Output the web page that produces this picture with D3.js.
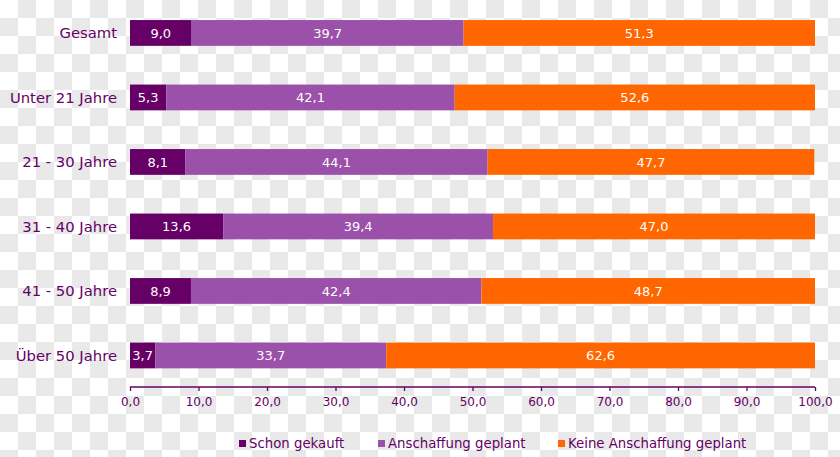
<!DOCTYPE html>
<html><head><meta charset="utf-8">
<script src="https://cdn.jsdelivr.net/npm/d3@7"></script>
<style>html,body{margin:0;padding:0;background:#fff;}svg{display:block;}</style>
</head><body>
<svg id="c" width="840" height="457"></svg>
<script>
const categories = ["Gesamt","Unter 21 Jahre","21 - 30 Jahre","31 - 40 Jahre","41 - 50 Jahre","Über 50 Jahre"];
const seriesNames = ["Schon gekauft","Anschaffung geplant","Keine Anschaffung geplant"];
const schonGekauft = [9.0,5.3,8.1,13.6,8.9,3.7];
const anschaffungGeplant = [39.7,42.1,44.1,39.4,42.4,33.7];
const keineAnschaffung = [51.3,52.6,47.7,47.0,48.7,62.6];
const tickValues = [0,10,20,30,40,50,60,70,80,90,100];
const colors = ["#660066","#9b51a9","#ff6600"];

const svg = d3.select("#c");
const W = 840, H = 457;
const textColor = "#660066";
const font = "'DejaVu Sans', Verdana, sans-serif";

// checkerboard background
const defs = svg.append("defs");
const pat = defs.append("pattern").attr("id","chk").attr("patternUnits","userSpaceOnUse")
  .attr("width",36).attr("height",36);
pat.append("rect").attr("width",36).attr("height",36).attr("fill","#ffffff");
pat.append("rect").attr("x",18).attr("y",0).attr("width",18).attr("height",18).attr("fill","#e9e9e9");
pat.append("rect").attr("x",0).attr("y",18).attr("width",18).attr("height",18).attr("fill","#e9e9e9");
svg.append("rect").attr("width",W).attr("height",H).attr("fill","url(#chk)");

const x = d3.scaleLinear().domain([0,100]).range([130,815]);
const y = d3.scaleBand().domain(categories).range([0.7,387.7]).paddingInner(0.6).paddingOuter(0.3);

const data = categories.map((c,i)=>({cat:c, vals:[schonGekauft[i],anschaffungGeplant[i],keineAnschaffung[i]]}));
const stack = d3.stack().keys([0,1,2]).value((d,k)=>d.vals[k]);
const series = stack(data);

const g = svg.append("g");
series.forEach((s,si)=>{
  const grp = g.append("g");
  grp.selectAll("rect").data(s).join("rect")
    .attr("x",d=>x(d[0])).attr("width",d=>x(d[1])-x(d[0]))
    .attr("y",d=>y(d.data.cat)).attr("height",y.bandwidth())
    .attr("fill",colors[si]);
  grp.selectAll("text").data(s).join("text")
    .attr("x",d=>(x(d[0])+x(d[1]))/2)
    .attr("y",d=>y(d.data.cat)+y.bandwidth()/2)
    .attr("dy","0.36em")
    .attr("text-anchor","middle")
    .attr("fill","#ffffff")
    .style("font-family",font).style("font-size","13px")
    .text(d=>d3.format(".1f")(d[1]-d[0]).replace(".",","));
});

// category labels
svg.append("g").selectAll("text").data(categories).join("text")
  .attr("x",117).attr("y",d=>y(d)+y.bandwidth()/2).attr("dy","0.36em")
  .attr("text-anchor","end").attr("fill",textColor)
  .style("font-family",font).style("font-size","14.8px")
  .text(d=>d);

// x axis
const axis = d3.axisBottom(x).tickValues(tickValues).tickSize(4).tickPadding(6)
  .tickFormat(d=>d3.format(".1f")(d).replace(".",","));
const ax = svg.append("g").attr("transform","translate(0,387)").call(axis);
ax.select(".domain").attr("stroke",textColor).attr("stroke-width",1.3).attr("d","M130,0H815");
ax.selectAll(".tick line").attr("stroke",textColor).attr("stroke-width",1.3);
ax.selectAll(".tick text").attr("fill",textColor).style("font-family",font).style("font-size","12px");

// legend
const legX = [239,378,558];
const leg = svg.append("g");
seriesNames.forEach((n,i)=>{
  leg.append("rect").attr("x",legX[i]).attr("y",440).attr("width",7).attr("height",7).attr("fill",colors[i]);
  leg.append("text").attr("x",legX[i]+10).attr("y",448).attr("fill",textColor)
    .style("font-family",font).style("font-size","13.3px").text(n);
});
</script>
</body></html>
